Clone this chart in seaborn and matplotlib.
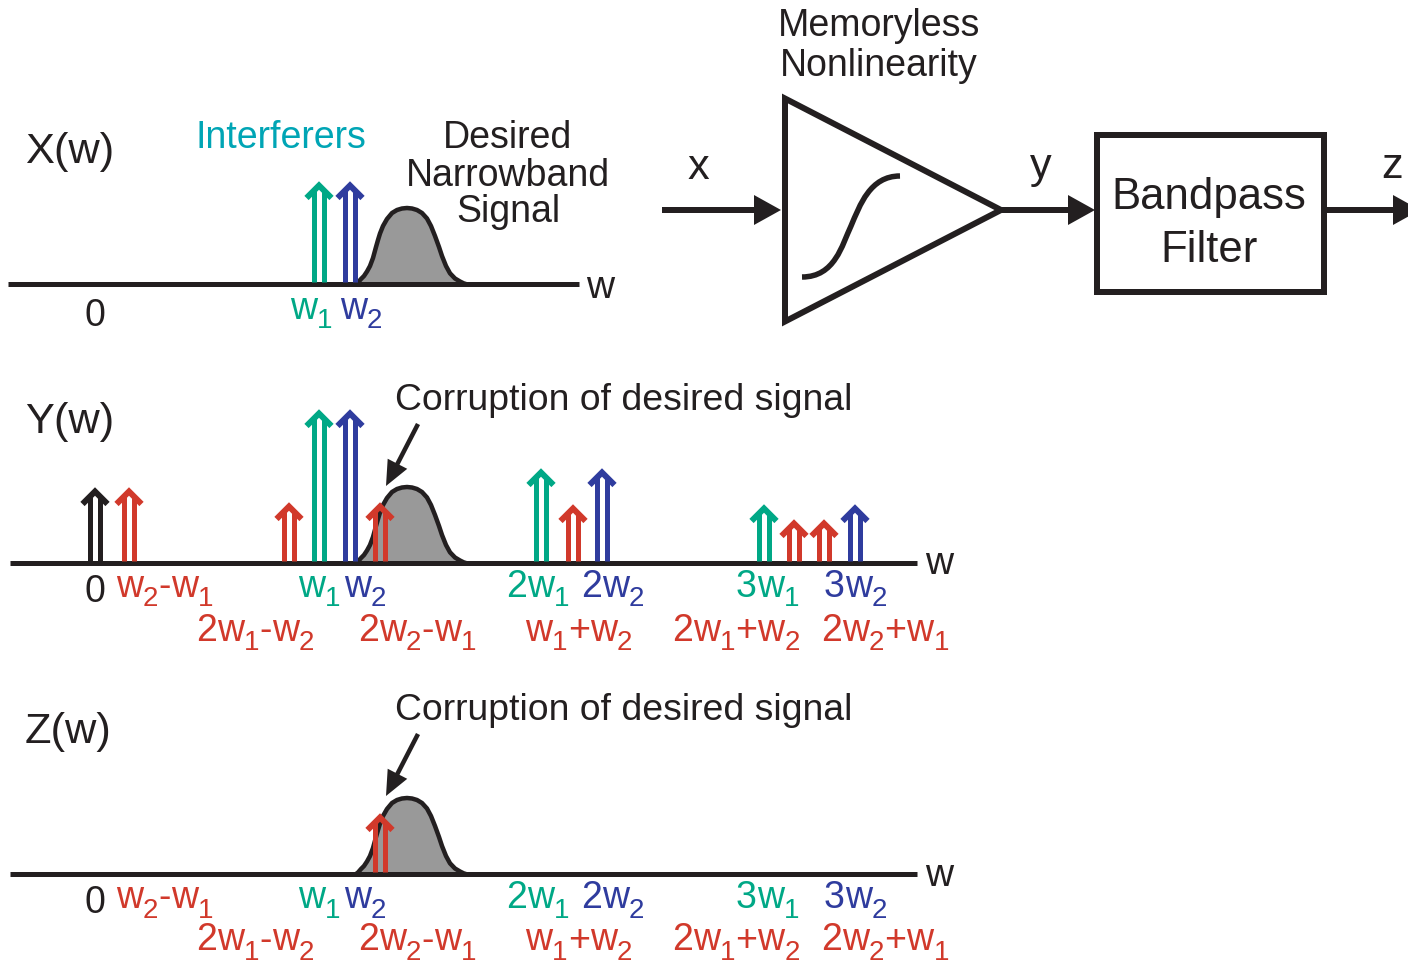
import matplotlib
matplotlib.use('Agg')
import matplotlib.pyplot as plt
import seaborn as sns
from matplotlib.patches import Polygon, PathPatch, Rectangle
from matplotlib.path import Path

GREEN = '#00A886'
BLUE = '#2F3C9E'
RED = '#D1392B'
BLACK = '#231F20'
GRAY = '#999999'
CYAN = '#00A5B5'
COLORS = {'g': GREEN, 'b': BLUE, 'r': RED, 'k': BLACK}

# arrow position, height above the axis, colour
x_arrow_pos = [319, 350]
x_arrow_amp = [102, 102]
x_arrow_col = ['g', 'b']

y_arrow_pos = [95, 129, 289, 319, 350, 380, 541, 573, 602, 764, 794, 824, 855]
y_arrow_amp = [75, 75, 60, 153, 153, 60, 94, 58, 94, 58, 43, 43, 58]
y_arrow_col = ['k', 'r', 'r', 'g', 'b', 'r', 'g', 'r', 'b', 'g', 'r', 'r', 'b']

z_arrow_pos = [380]
z_arrow_amp = [60]
z_arrow_col = ['r']

# desired signal outline, offset from its centre and height
bump_dx = [-51, -49, -46, -43, -40, -37, -34, -31, -29, -27, -24, -20, -15, -10, -5, 0,
           5, 10, 15, 20, 24, 28, 32, 35, 39, 43, 48, 53, 57, 59]
bump_h = [0, 1.5, 5, 8, 12.5, 18, 26, 37, 44, 50.5, 58, 65, 71, 74, 75.5, 76,
          75.5, 74, 71, 65.5, 58, 48, 37, 28, 18, 10.7, 5.5, 2.5, 0.5, 0]

# tick labels, _ marks a subscript digit
x_labels = ['w_1', 'w_2']
x_label_pos = [290, 340]
x_label_col = ['g', 'b']

row1_labels = ['w_2-w_1', 'w_1', 'w_2', '2w_1', '2w_2', '3w_1', '3w_2']
row1_pos = [116, 298, 344, 506, 581, 736, 824]
row1_col = ['r', 'g', 'b', 'g', 'b', 'g', 'b']

row2_labels = ['2w_1-w_2', '2w_2-w_1', 'w_1+w_2', '2w_1+w_2', '2w_2+w_1']
row2_pos = [196, 358, 525, 672, 821]

AXIS_Y = [284, 563, 874]
BUMP_X = 407

sns.set_theme(style='white')
plt.rcParams['font.family'] = ['Liberation Sans', 'DejaVu Sans']

fig = plt.figure(figsize=(14.08, 9.61), dpi=100)
ax = fig.add_axes([0, 0, 1, 1])
ax.set_xlim(0, 1408)
ax.set_ylim(961, 0)
ax.axis('off')
renderer = fig.canvas.get_renderer()


def px(v):
    return v * 0.72


def draw_line(xs, ys, color=BLACK, width=5, z=3, cap='butt', join='miter'):
    sns.lineplot(x=xs, y=ys, ax=ax, color=color, linewidth=px(width), sort=False,
                 estimator=None, legend=False, zorder=z,
                 solid_capstyle=cap, solid_joinstyle=join)


def draw_arrows(base, positions, amps, cols):
    for c, amp, col in zip(positions, amps, cols):
        color = COLORS[col]
        tip = base - amp
        for side in (-5, 5):
            draw_line([c + side, c + side], [base - 2, tip + 8], color=color, z=4)
        draw_line([c - 12.5, c, c + 12.5], [tip + 16, tip + 3.5, tip + 16],
                  color=color, width=6, z=4)


def draw_bump(base):
    xs = [BUMP_X + d for d in bump_dx]
    ys = [base - h for h in bump_h]
    ax.fill_between(xs, ys, base, color=GRAY, linewidth=0, zorder=1)
    draw_line(xs, ys, width=4.5, z=2, join='round')


def sub_text(label, x, base, color, size=27, sub_size=20, drop=9.5):
    i = 0
    while i < len(label):
        if label[i] == '_':
            t = ax.text(x, base + drop, label[i + 1], fontsize=sub_size, color=color, va='baseline', ha='left')
            i += 2
        else:
            t = ax.text(x, base, label[i], fontsize=size, color=color, va='baseline', ha='left')
            i += 1
        x += t.get_window_extent(renderer).width


def big_arrow(x0, x1, y, head=27):
    draw_line([x0, x1 - head + 2], [y, y], width=6)
    ax.add_patch(Polygon([(x1 - head, y - 15), (x1, y), (x1 - head, y + 15)], closed=True,
                         facecolor=BLACK, edgecolor='none', zorder=5))


def pointer(x0, y0, x1, y1):
    draw_line([x0, x0 + (x1 - x0) * 0.7], [y0, y0 + (y1 - y0) * 0.7], width=4.5)
    # head as triangle along the pointer direction
    dx, dy = x1 - x0, y1 - y0
    n = (dx ** 2 + dy ** 2) ** 0.5
    ux, uy = dx / n, dy / n
    bx, by = x1 - ux * 25, y1 - uy * 25
    ax.add_patch(Polygon([(x1, y1), (bx - uy * 11, by + ux * 11), (bx + uy * 11, by - ux * 11)],
                         closed=True, facecolor=BLACK, edgecolor='none', zorder=5))


def tick_rows(offset1, offset2):
    for lab, pos, col in zip(row1_labels, row1_pos, row1_col):
        sub_text(lab, pos, 597 + offset1, COLORS[col])
    for lab, pos in zip(row2_labels, row2_pos):
        sub_text(lab, pos, 641 + offset2, RED)
    ax.text(95, 602 + offset1, '0', fontsize=27, color=BLACK, ha='center', va='baseline')


# axes of the three spectra
draw_line([8, 579], [AXIS_Y[0]] * 2, z=3)
draw_line([10, 917], [AXIS_Y[1]] * 2, z=3)
draw_line([10, 917], [AXIS_Y[2]] * 2, z=3)

for base in AXIS_Y:
    draw_bump(base)

draw_arrows(AXIS_Y[0], x_arrow_pos, x_arrow_amp, x_arrow_col)
draw_arrows(AXIS_Y[1], y_arrow_pos, y_arrow_amp, y_arrow_col)
draw_arrows(AXIS_Y[2], z_arrow_pos, z_arrow_amp, z_arrow_col)

pointer(418, 424, 386, 486)
pointer(418, 734, 386, 796)

# spectrum titles
ax.text(25, 163, 'X(w)', fontsize=31.2, color=BLACK, va='baseline')
ax.text(25, 433, 'Y(w)', fontsize=31.2, color=BLACK, va='baseline')
ax.text(25, 743, 'Z(w)', fontsize=31.2, color=BLACK, va='baseline')

ax.text(281, 147.5, 'Interferers', fontsize=27, color=CYAN, ha='center', va='baseline')
for txt, yy in zip(['Desired', 'Narrowband', 'Signal'], [147.5, 185.5, 222.5]):
    ax.text(508, yy, txt, fontsize=27, color=BLACK, ha='center', va='baseline')

ax.text(95, 326, '0', fontsize=27, color=BLACK, ha='center', va='baseline')
for lab, pos, col in zip(x_labels, x_label_pos, x_label_col):
    sub_text(lab, pos, 319, COLORS[col])

ax.text(586, 298.5, 'w', fontsize=28, color=BLACK, va='baseline')
ax.text(925, 574.5, 'w', fontsize=28, color=BLACK, va='baseline')
ax.text(925, 885.5, 'w', fontsize=28, color=BLACK, va='baseline')

tick_rows(0, 0)
tick_rows(311, 309.5)

ax.text(395, 409.5, 'Corruption of desired signal', fontsize=26.9, color=BLACK, va='baseline')
ax.text(395, 719.5, 'Corruption of desired signal', fontsize=26.9, color=BLACK, va='baseline')

# system block diagram
ax.text(879, 36.5, 'Memoryless', fontsize=27, color=BLACK, ha='center', va='baseline')
ax.text(879, 76.5, 'Nonlinearity', fontsize=27, color=BLACK, ha='center', va='baseline')

ax.add_patch(Polygon([(785, 98.5), (1001, 210), (785, 321.5)], closed=True, facecolor='white',
                     edgecolor=BLACK, linewidth=px(6), joinstyle='miter', zorder=3))
curve = Path([(802, 277), (835, 277), (842, 245), (851, 226), (860, 205), (870, 176), (900, 176)],
             [Path.MOVETO, Path.CURVE4, Path.CURVE4, Path.CURVE4, Path.CURVE4, Path.CURVE4, Path.CURVE4])
ax.add_patch(PathPatch(curve, facecolor='none', edgecolor=BLACK, linewidth=px(5.5), capstyle='butt', zorder=4))

ax.add_patch(Rectangle((1097, 135), 227, 157, facecolor='white', edgecolor=BLACK,
                       linewidth=px(6), joinstyle='miter', zorder=3))
ax.text(1209, 209.5, 'Bandpass', fontsize=31.5, color=BLACK, ha='center', va='baseline', zorder=5)
ax.text(1209, 262.5, 'Filter', fontsize=31.5, color=BLACK, ha='center', va='baseline', zorder=5)

big_arrow(662, 781, 210)
big_arrow(1000, 1095, 210)
big_arrow(1325, 1420, 210)

ax.text(698, 179, 'x', fontsize=31.2, color=BLACK, ha='center', va='baseline')
ax.text(1041, 178, 'y', fontsize=31.2, color=BLACK, ha='center', va='baseline')
ax.text(1392, 178, 'z', fontsize=31.2, color=BLACK, ha='center', va='baseline')

fig.savefig('out.png', dpi=100, facecolor='white')
